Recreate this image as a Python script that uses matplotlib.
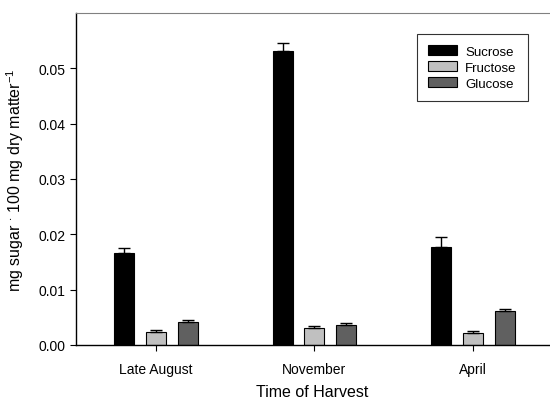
import numpy as np
import matplotlib
matplotlib.use("Agg")
import matplotlib.pyplot as plt

plt.rcParams["font.family"] = ["Liberation Sans", "DejaVu Sans"]
plt.rcParams["mathtext.fontset"] = "custom"
plt.rcParams["mathtext.rm"] = "Liberation Sans"
plt.rcParams["mathtext.default"] = "regular"

harvests = ["Late August", "November", "April"]
sugars = ["Sucrose", "Fructose", "Glucose"]
sucrose = [0.0167, 0.0532, 0.0178]
sucrose_err = [0.0009, 0.0013, 0.0017]
fructose = [0.0023, 0.0030, 0.0021]
fructose_err = [0.0004, 0.0004, 0.0004]
glucose = [0.0041, 0.0036, 0.0061]
glucose_err = [0.0005, 0.0004, 0.0004]
colors = ["#000000", "#c0c0c0", "#606060"]

fig = plt.figure(figsize=(5.5, 4.02), dpi=100)
ax = fig.add_axes([76 / 550, 56 / 402, 473 / 550, 332 / 402])

x = np.arange(len(harvests))
offset = 0.2
width = 0.126
series = [(sucrose, sucrose_err), (fructose, fructose_err), (glucose, glucose_err)]
for i, (vals, errs) in enumerate(series):
    ax.bar(x + (i - 1) * offset, vals, width, color=colors[i], edgecolor="black",
           linewidth=0.8, label=sugars[i],
           yerr=[np.zeros(len(errs)), errs], capsize=4,
           error_kw=dict(elinewidth=1, capthick=1, ecolor="black"))

ax.set_xlim(-0.505, 2.48)
ax.set_ylim(0, 0.06)
ax.set_yticks([0, 0.01, 0.02, 0.03, 0.04, 0.05])
ax.set_yticklabels(["0.00", "0.01", "0.02", "0.03", "0.04", "0.05"])
ax.set_xticks(x)
ax.set_xticklabels(harvests)
ax.tick_params(axis="both", labelsize=10, direction="out", length=4, width=0.8)
ax.tick_params(axis="x", pad=8)

ax.spines["right"].set_visible(False)
ax.spines["top"].set_color("#808080")
ax.spines["left"].set_linewidth(1)
ax.spines["bottom"].set_linewidth(1)

ax.set_xlabel("Time of Harvest", fontsize=11.5, labelpad=6)
ax.set_ylabel("mg sugar $^{\\cdot}$ 100 mg dry matter$^{-1}$", fontsize=11.5, labelpad=9)

leg = ax.legend(loc="upper left", bbox_to_anchor=(0.721, 0.937), borderaxespad=0,
                fontsize=9.5, frameon=True, fancybox=False, edgecolor="black",
                handlelength=2.2, handleheight=0.8, labelspacing=0.25,
                borderpad=0.85, handletextpad=0.6)
leg.get_frame().set_linewidth(0.8)

fig.savefig("out.png", dpi=100)
